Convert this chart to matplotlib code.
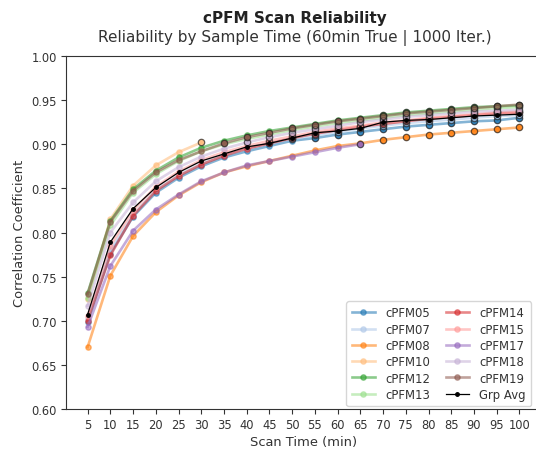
import numpy as np
import matplotlib
matplotlib.use("Agg")
import matplotlib.pyplot as plt

times = [5, 10, 15, 20, 25, 30, 35, 40, 45, 50, 55, 60, 65, 70, 75, 80, 85, 90, 95, 100]
xtick_labels = [str(t) for t in times]

nan = np.nan
cPFM05 = [0.699, 0.776, 0.818, 0.845, 0.862, 0.875, 0.885, 0.892, 0.898, 0.904, 0.907, 0.911, 0.914, 0.917, 0.920, 0.922, 0.924, 0.926, 0.927, 0.930]
cPFM07 = [0.702, 0.780, 0.820, 0.848, 0.865, 0.878, 0.888, 0.895, 0.901, 0.906, 0.910, 0.914, 0.918, 0.921, 0.924, 0.926, 0.928, 0.930, 0.932, 0.933]
cPFM08 = [0.670, 0.751, 0.796, 0.823, 0.842, 0.857, 0.868, 0.875, 0.881, 0.887, 0.893, 0.898, 0.901, 0.905, 0.908, 0.911, 0.913, 0.915, 0.917, 0.919]
cPFM10 = [0.725, 0.815, 0.853, 0.876, 0.891, 0.902, nan, nan, nan, nan, nan, nan, nan, nan, nan, nan, nan, nan, nan, nan]
cPFM12 = [0.731, 0.813, 0.849, 0.870, 0.885, 0.896, 0.904, 0.910, 0.915, 0.919, 0.923, 0.927, 0.930, 0.933, 0.936, 0.938, 0.940, 0.942, 0.943, 0.944]
cPFM13 = [0.726, 0.808, 0.845, 0.866, 0.881, 0.892, 0.900, 0.906, 0.911, 0.916, 0.920, 0.924, 0.927, 0.930, 0.933, 0.935, 0.937, 0.939, 0.941, 0.942]
cPFM14 = [0.700, 0.774, 0.819, 0.847, 0.864, 0.877, 0.887, 0.895, 0.901, 0.907, 0.912, 0.916, 0.920, 0.923, 0.926, 0.929, 0.931, 0.933, 0.935, 0.936]
cPFM15 = [0.705, 0.785, 0.825, 0.852, 0.869, 0.882, 0.891, 0.898, 0.904, 0.909, 0.914, 0.918, 0.921, 0.925, 0.927, 0.930, 0.932, 0.934, 0.936, 0.937]
cPFM17 = [0.693, 0.762, 0.802, 0.826, 0.843, 0.858, 0.868, 0.876, 0.881, 0.886, 0.891, 0.896, 0.900, nan, nan, nan, nan, nan, nan, nan]
cPFM18 = [0.717, 0.800, 0.834, 0.858, 0.874, 0.886, 0.895, 0.902, 0.908, 0.913, 0.917, 0.921, 0.925, 0.928, 0.931, 0.933, 0.935, 0.937, 0.938, 0.939]
cPFM19 = [0.730, 0.812, 0.847, 0.868, 0.882, 0.892, 0.901, 0.908, 0.913, 0.918, 0.922, 0.926, 0.929, 0.932, 0.935, 0.937, 0.939, 0.941, 0.943, 0.945]
grp_avg = [0.707, 0.789, 0.827, 0.851, 0.868, 0.881, 0.889, 0.897, 0.901, 0.907, 0.913, 0.915, 0.918, 0.925, 0.927, 0.928, 0.930, 0.932, 0.933, 0.934]

series_names = ["cPFM05", "cPFM07", "cPFM08", "cPFM10", "cPFM12", "cPFM13",
                "cPFM14", "cPFM15", "cPFM17", "cPFM18", "cPFM19"]
series_values = [cPFM05, cPFM07, cPFM08, cPFM10, cPFM12, cPFM13,
                 cPFM14, cPFM15, cPFM17, cPFM18, cPFM19]
# scan time from which markers are outlined in black
edge_from = [55, 50, 70, 30, 70, 50, 45, 45, 65, 40, 35]

colors = ["#1f77b4", "#aec7e8", "#ff7f0e", "#ffbb78", "#2ca02c", "#98df8a",
          "#d62728", "#ff9896", "#9467bd", "#c5b0d5", "#8c564b"]

fig = plt.figure(figsize=(5.36, 4.56), dpi=100)
ax = fig.add_axes([66 / 536, 46 / 456, 475 / 536, 353 / 456])

t_arr = np.array(times, dtype=float)
for name, vals, col, ef in zip(series_names, series_values, colors, edge_from):
    v = np.array(vals, dtype=float)
    ax.plot(t_arr, v, color=col, lw=1.9, alpha=0.55, marker="o", ms=3.8,
            label=name, zorder=2)
    m = (t_arr >= ef) & ~np.isnan(v)
    ax.plot(t_arr[m], v[m], ls="none", marker="o", ms=4.6, mfc=col,
            mec="#222222", mew=0.9, alpha=0.7, zorder=3)

ax.plot(t_arr, grp_avg, color="black", lw=0.9, marker="o", ms=2.5,
        label="Grp Avg", zorder=4)

ax.set_ylim(0.60, 1.00)
yt = np.arange(0.60, 1.0001, 0.05)
ax.set_yticks(yt)
ax.set_yticklabels([f"{y:.2f}" for y in yt])
ax.set_xticks(times)
ax.set_xticklabels(xtick_labels)
ax.set_xlim(0.25, 104.75)
ax.tick_params(labelsize=8.3, colors="#333333", labelcolor="#333333", pad=3)
for s in ax.spines.values():
    s.set_color("#333333")

ax.set_xlabel("Scan Time (min)", fontsize=9.4, color="#333333", labelpad=3)
ax.set_ylabel("Correlation Coefficient", fontsize=9.4, color="#333333", labelpad=4)

fig.text(295 / 536, 1 - 18 / 456, "cPFM Scan Reliability", ha="center",
         va="center", fontsize=11, fontweight="bold", color="#222222")
fig.text(295 / 536, 1 - 38 / 456, "Reliability by Sample Time (60min True | 1000 Iter.)",
         ha="center", va="center", fontsize=11, color="#333333")

leg = ax.legend(loc="lower right", ncol=2, fontsize=8.4, frameon=True,
                bbox_to_anchor=((534 - 66) / 475, 0.0),
                borderaxespad=0.25, columnspacing=1.3, handletextpad=0.9,
                labelspacing=0.28, borderpad=0.45)
for txt in leg.get_texts():
    txt.set_color("#333333")

fig.savefig("out.png", dpi=100)
